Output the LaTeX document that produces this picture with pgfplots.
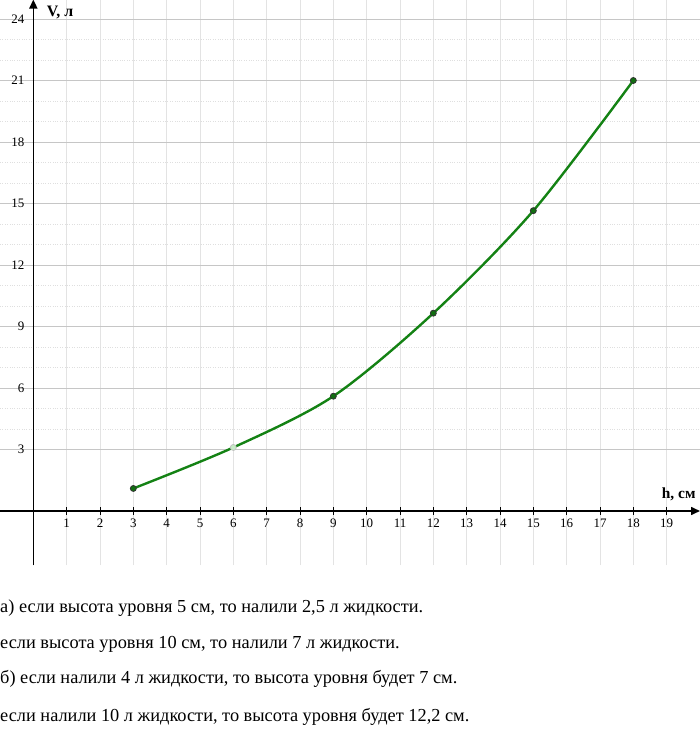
\documentclass[border=0pt]{standalone}
\usepackage{fontspec}
\setmainfont{Liberation Serif}
\usepackage{pgfplots}
\pgfplotsset{compat=1.18}
\usetikzlibrary{arrows.meta}
\definecolor{curvegreen}{RGB}{20,130,20}
\begin{document}
\begin{tikzpicture}
\begin{axis}[
  at={(0,0)}, anchor=origin,
  x=33.333bp, y=20.5bp,
  xmin=-1, xmax=20, ymin=-2.65, ymax=24.95,
  axis lines=middle,
  axis line style={black, line width=1.6bp, -{Triangle[length=9bp,width=8bp]}},
  xtick={1,...,19}, ytick={3,6,...,24},
  minor y tick num=2,
  grid=both,
  major x grid style={gray!22, line width=0.8bp},
  major y grid style={gray!45, line width=0.9bp},
  minor y grid style={gray!25, dotted, line width=0.8bp},
  tick style={black, line width=0.9bp},
  major tick length=7bp, minor tick length=0pt,
  xtick align=center, ytick style={draw=none},
  tick label style={font=\fontsize{13}{15}\selectfont},
  /pgf/number format/assume math mode=true,
  xticklabel style={anchor=north, yshift=-1bp},
  yticklabel style={anchor=east, xshift=-2bp},
  clip=false,
]
\addplot[curvegreen, line width=2.4bp, smooth, tension=0.5] coordinates {
  (3,1.1) (6,3.1) (9,5.6) (12,9.65) (15,14.65) (18,21)
};
\addplot[only marks, mark=*, mark size=3bp, mark options={fill=curvegreen!85!black, draw=black!80, line width=0.8bp}] coordinates {
  (3,1.1) (9,5.6) (12,9.65) (15,14.65) (18,21)
};
\addplot[only marks, mark=*, mark size=3bp, mark options={fill=gray!50!green!30, draw=gray!50, line width=0.8bp}] coordinates {
  (6,3.1)
};
\node[anchor=west, font=\bfseries\fontsize{16}{18}\selectfont] at (axis cs:0.3,24.3) {V, л};
\node[anchor=west, font=\bfseries\fontsize{15.5}{18}\selectfont] at (axis cs:18.75,0.8) {h, см};
\end{axis}
\begin{scope}[every node/.style={anchor=base west, inner sep=0pt, font=\fontsize{18.4}{22}\selectfont}]
\node at (-33.333bp,-101bp) {а) если высота уровня 5 см, то налили 2,5 л жидкости.};
\node at (-33.333bp,-137bp) {если высота уровня 10 см, то налили 7 л жидкости.};
\node at (-33.333bp,-172bp) {б) если налили 4 л жидкости, то высота уровня будет 7 см.};
\node at (-33.333bp,-210bp) {если налили 10 л жидкости, то высота уровня будет 12,2 см.};
\end{scope}
\pgfresetboundingbox
\useasboundingbox (-33.333bp,-219bp) rectangle (666.667bp,511bp);
\end{tikzpicture}
\end{document}
